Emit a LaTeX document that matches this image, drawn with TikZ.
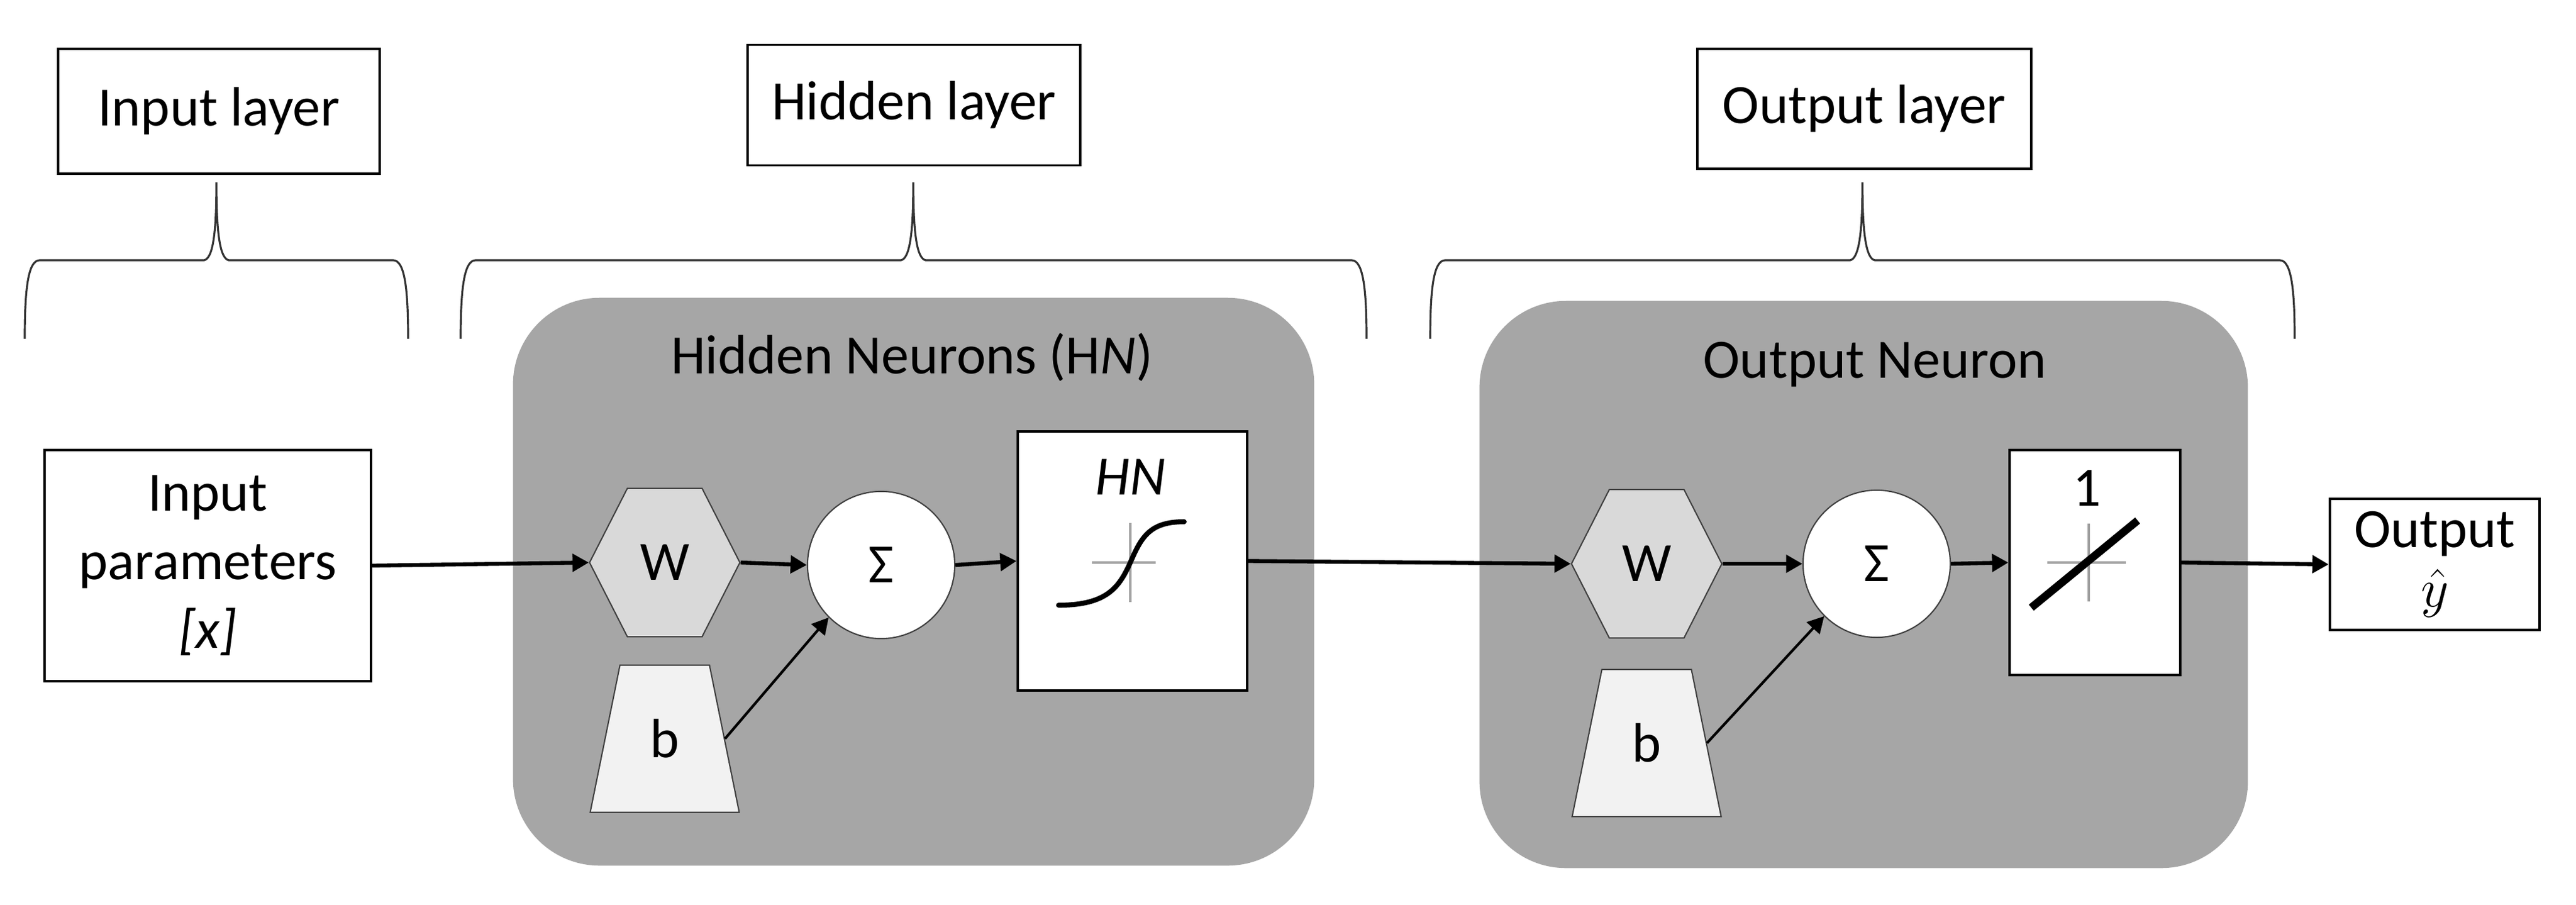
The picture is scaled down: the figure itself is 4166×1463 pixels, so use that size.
\documentclass[tikz,border=0pt]{standalone}
\usepackage{fontspec}
\setmainfont{Carlito}
\usepackage{amsmath}
\usetikzlibrary{arrows.meta,shapes.geometric,shapes.symbols}
\definecolor{neurongray}{HTML}{A6A6A6}
\definecolor{wgray}{HTML}{D9D9D9}
\definecolor{bgray}{HTML}{F2F2F2}
\definecolor{axisgray}{HTML}{A0A0A0}
\definecolor{shapeline}{HTML}{404040}
\definecolor{braceline}{HTML}{333333}

\begin{document}
\begin{tikzpicture}[x=0.01cm, y=-0.01cm,
	every node/.style={font=\fontsize{25.5pt}{31.5pt}\selectfont, inner sep=0pt},
	whitebox/.style={draw, line width=1.1pt, fill=white},
	neuronbox/.style={fill=neurongray, rounded corners=1.4cm},
	wnode/.style={signal, signal to=east and west, signal pointer angle=126,
		draw=shapeline, line width=0.6pt, fill=wgray,
		minimum width=2.43cm, minimum height=2.4cm},
	bnode/.style={trapezium, trapezium left angle=76, trapezium right angle=76,
		trapezium stretches=true, draw=shapeline, line width=0.6pt, fill=bgray,
		minimum width=2.41cm, minimum height=2.38cm},
	snode/.style={circle, draw=shapeline, line width=0.6pt, fill=white, minimum size=2.38cm},
	conn/.style={draw, line width=1.8pt, -{Triangle[length=7.5pt,width=8pt]}},
	biasconn/.style={line width=1.2pt},
	curve/.style={line width=2.3pt, line cap=round},
	axis/.style={draw=axisgray, line width=1.1pt},
	brace/.style={draw=braceline, line width=0.9pt}]
	\useasboundingbox (0,0) rectangle (4166,1463);

	% layer labels and braces
	\node[whitebox, minimum width=5.2cm, minimum height=2.02cm] (inlay) at (354,180) {Input layer};
	\node[whitebox, minimum width=5.37cm, minimum height=1.95cm] (hidlay) at (1478,170) {Hidden layer};
	\node[whitebox, minimum width=5.39cm, minimum height=1.94cm] (outlay) at (3015,176) {Output layer};
	\foreach \l/\c/\r in {40/350/660, 745/1477/2210, 2313/3012/3711}
		\draw[brace] (\l,548) .. controls (\l,470) and ({\l+5},421) .. ({\l+24},421)
			-- ({\c-20},421) .. controls ({\c-6},418) and (\c,380) .. (\c,295)
			.. controls (\c,380) and ({\c+6},418) .. ({\c+20},421)
			-- ({\r-24},421) .. controls ({\r-5},421) and (\r,470) .. (\r,548);

	% neurons
	\node[neuronbox, minimum width=12.95cm, minimum height=9.18cm] (hidbox) at (1477.5,941) {};
	\node[neuronbox, minimum width=12.42cm, minimum height=9.17cm] (outbox) at (3014,945.5) {};
	\node[anchor=base] (hidtitle) at (1475,604) {Hidden Neurons (H\textit{N})};
	\node[anchor=base] (outtitle) at (3032,611) {Output Neuron};

	\node[whitebox, minimum width=5.27cm, minimum height=3.74cm, align=center] (inpar) at (336,915)
		{Input\\parameters\\\textit{[x]}};

	\node[wnode] (w1) at (1075,910) {W};
	\node[bnode] (b1) at (1075,1195) {b};
	\node[snode] (s1) at (1425,914) {Σ};
	\node[whitebox, minimum width=3.71cm, minimum height=4.19cm] (hn) at (1831.5,907.5) {};
	\node[anchor=base] (hnlab) at (1828,800) {\textit{HN}};
	\draw[axis] (1766,910) -- (1869,910) (1828,846) -- (1828,974);
	\draw[curve] (1712,979) .. controls (1790,979) and (1810,950) .. (1828,910)
		.. controls (1846,868) and (1860,844) .. (1915,844);

	\node[wnode] (w2) at (2663,912) {W};
	\node[bnode] (b2) at (2663,1202) {b};
	\node[snode] (s2) at (3035,912) {Σ};
	\node[whitebox, minimum width=2.76cm, minimum height=3.64cm] (lin) at (3388,910) {};
	\node[anchor=base] (linlab) at (3375,818) {1};
	\draw[axis] (3311,910) -- (3438,910) (3378,847) -- (3378,973);
	\draw[curve, line width=3.6pt, line cap=butt] (3285,983) -- (3457,842);

	\node[whitebox, minimum width=3.39cm, minimum height=2.12cm, align=center] (out) at (3937.5,913)
		{Output\\[-4pt]{\fontsize{33pt}{33pt}\selectfont$\hat{y}$}};

	\path[every edge/.style={conn}]
	(inpar.east) edge (w1.west)
	(w1.east) edge (s1.west)
	(b1.east) edge[biasconn] (s1.south west)
	(s1.east) edge (hn.west)
	(hn.east) edge (w2.west)
	(w2.east) edge (s2.west)
	(b2.east) edge[biasconn] (s2.south west)
	(s2.east) edge (lin.west)
	(lin.east) edge (out.west);
\end{tikzpicture}
\end{document}
